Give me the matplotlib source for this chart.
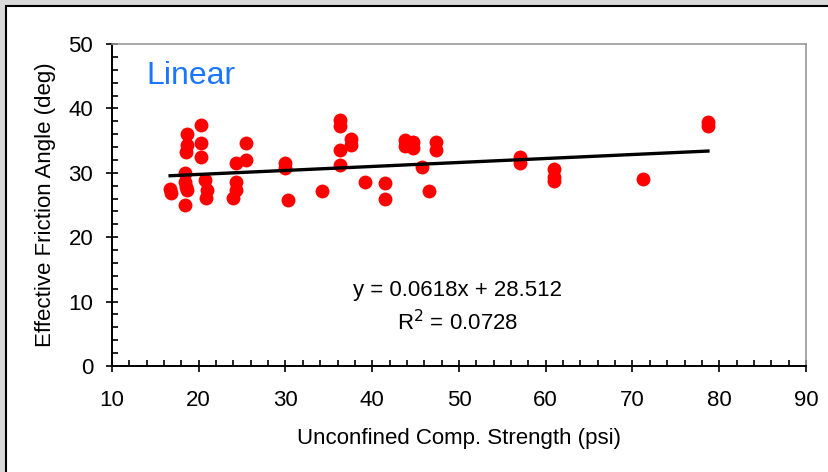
import matplotlib.pyplot as plt
from matplotlib.patches import Rectangle
from matplotlib.ticker import MultipleLocator

plt.rcParams['font.family'] = ['Liberation Sans', 'DejaVu Sans']

"""Data read off the chart"""
ucs = [16.7, 16.8, 18.4, 18.4, 18.6, 18.6, 18.6, 18.5, 18.4, 18.5,
       20.3, 20.3, 20.3, 20.7, 21.0, 20.8,
       24.3, 24.3, 24.0, 24.3, 25.4, 25.4,
       29.9, 29.9, 30.3, 34.2,
       36.3, 36.3, 36.3, 36.3, 37.6, 37.6, 39.2,
       41.5, 41.5, 43.8, 43.8, 44.7, 44.7, 45.7, 46.5, 47.4, 47.4,
       57.0, 57.0, 60.9, 60.9, 60.9, 71.2, 78.7, 78.7]
phi = [27.5, 26.9, 29.9, 28.6, 27.3, 36.1, 34.3, 33.3, 25.0, 27.8,
       37.4, 34.6, 32.4, 28.9, 27.3, 26.1,
       31.5, 28.6, 26.1, 27.3, 34.6, 32.0,
       31.5, 30.7, 25.8, 27.1,
       38.2, 37.2, 33.5, 31.2, 35.3, 34.3, 28.6,
       28.4, 26.0, 35.1, 34.1, 34.8, 33.8, 30.9, 27.1, 34.8, 33.5,
       32.5, 31.5, 30.6, 29.4, 28.7, 29.1, 37.9, 37.3]

slope = 0.0618
intercept = 28.512
r2 = 0.0728

fig = plt.figure(figsize=(8.29, 4.72), dpi=100)
fig.patch.set_facecolor('#d9d9d9')
# white chart area with black border
fig.patches.append(Rectangle((6/829, -0.02), 1.0, 1 - 6/472 + 0.02, transform=fig.transFigure,
                             facecolor='white', edgecolor='black', linewidth=1.5, zorder=-5))

ax = fig.add_axes([112/829, 1 - 366/472, (806-112)/829, (366-44)/472])
ax.set_zorder(2)
ax.set_facecolor('white')

x_fit = [min(ucs), max(ucs)]
y_fit = [slope*x + intercept for x in x_fit]
ax.plot(ucs, phi, 'o', color='red', markersize=10, markeredgewidth=0, zorder=3)
ax.plot(x_fit, y_fit, color='black', linewidth=2.4, zorder=4)

ax.set_xlim(10, 90)
ax.set_ylim(0, 50)
ax.xaxis.set_major_locator(MultipleLocator(10))
ax.xaxis.set_minor_locator(MultipleLocator(2))
ax.yaxis.set_major_locator(MultipleLocator(10))
ax.yaxis.set_minor_locator(MultipleLocator(2))
ax.tick_params(which='major', direction='inout', length=9, width=1.2, labelsize=16)
ax.tick_params(axis='x', which='major', pad=13)
ax.tick_params(axis='y', which='major', pad=9)
ax.tick_params(which='minor', direction='in', length=4, width=1.2)

for side in ['left', 'bottom']:
    ax.spines[side].set_color('black')
    ax.spines[side].set_linewidth(1.4)
for side in ['top', 'right']:
    ax.spines[side].set_color('#999999')
    ax.spines[side].set_linewidth(1.2)

ax.set_xlabel("Unconfined Comp. Strength (psi)", fontsize=16, labelpad=12)
ax.set_ylabel("Effective Friction Angle (deg)", fontsize=16, labelpad=9)

ax.text(14.0, 45.0, "Linear", color='#1a75ff', fontsize=23, va='center', ha='left')
ax.text(49.8, 11.8, "y = %.4fx + %.3f" % (slope, intercept), fontsize=16, ha='center', va='center')
ax.text(49.8, 6.8, "R$^2$ = %.4f" % r2, fontsize=16, ha='center', va='center')

plt.savefig("out.png", dpi=100, facecolor=fig.get_facecolor())
